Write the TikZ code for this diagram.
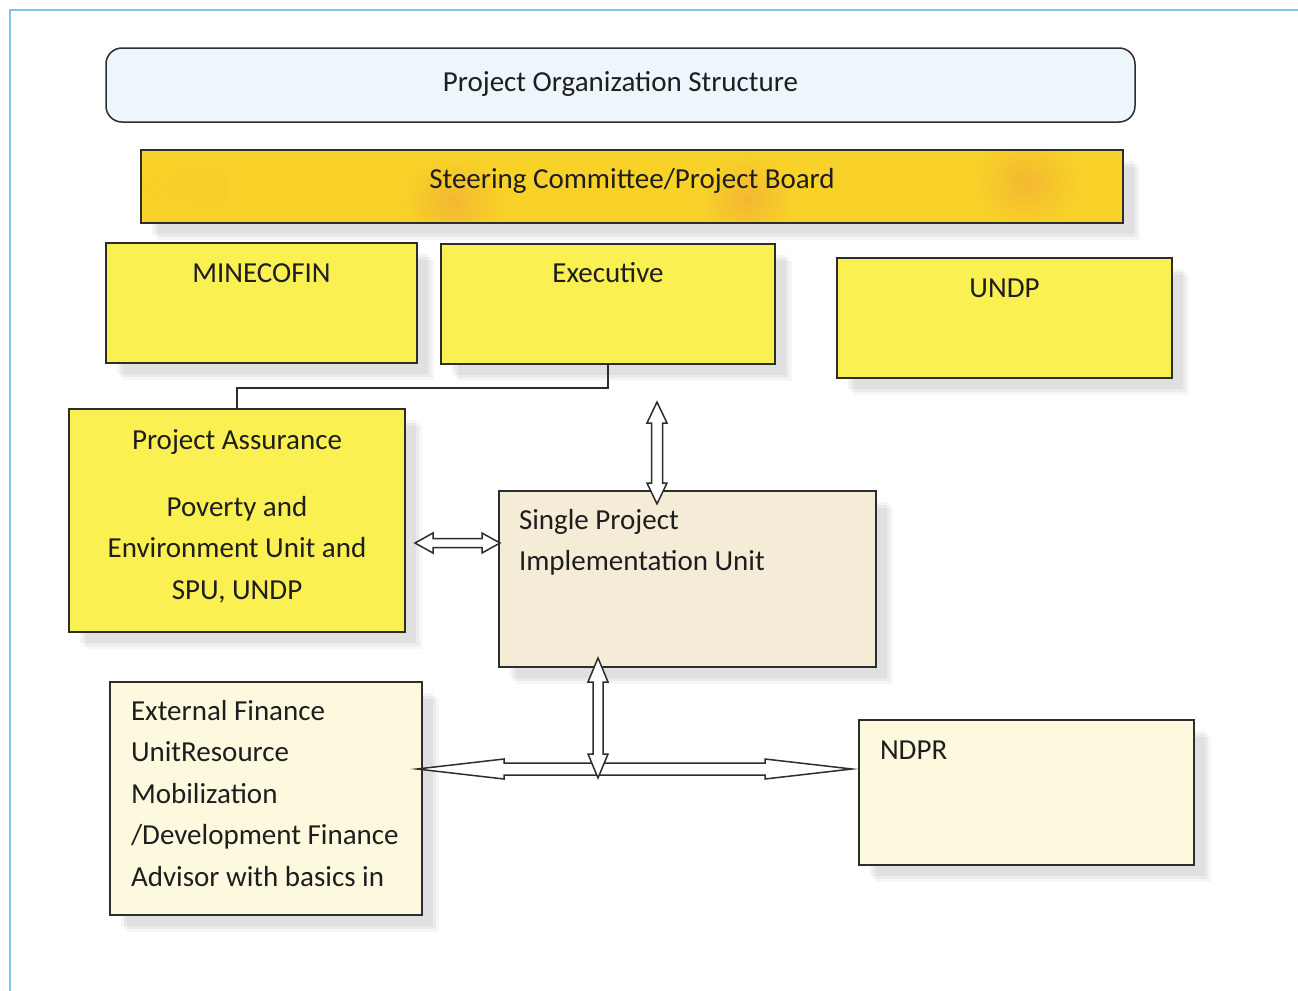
\documentclass[tikz,border=0pt]{standalone}
\usepackage{fontspec}
\setmainfont{Carlito}
\usetikzlibrary{shadows}

\definecolor{framecol}{RGB}{125,200,225}
\definecolor{titlefill}{RGB}{236,246,251}
\definecolor{steerfill}{RGB}{248,210,40}
\definecolor{steerblob}{RGB}{243,184,50}
\definecolor{boxyellow}{RGB}{250,240,82}
\definecolor{spiufill}{RGB}{245,236,216}
\definecolor{creamfill}{RGB}{253,249,222}
\definecolor{edgecol}{RGB}{45,45,45}
\definecolor{inkcol}{RGB}{30,30,30}

% box body: total height, width, alignment, first baseline depth, text
\newcommand\topbox[5]{\parbox[c][#1][t]{#2}{#3\rule{0pt}{#4}#5}}
% warm patch inside the board bar, offset from its top left corner
\newcommand\warmpatch[3]{\shade[inner color=steerblob, outer color=steerfill]
  ([shift={(#1,#2)}]path picture bounding box.north west) ellipse (#3 and 46);}

\tikzset{
  orgbox/.style={draw=edgecol, line width=0.75pt, inner sep=0pt, text=inkcol,
    font=\fontsize{14.5}{20.75}\selectfont},
  % soft offset shadow built from a few faint layers
  softshadow/.style={
    general shadow={shadow xshift=5.5pt, shadow yshift=-5.5pt, fill=black, opacity=0.045},
    general shadow={shadow xshift=7pt, shadow yshift=-7pt, fill=black, opacity=0.045},
    general shadow={shadow xshift=8.5pt, shadow yshift=-8.5pt, fill=black, opacity=0.035}},
  arrowline/.style={draw=edgecol, line width=0.75pt, fill=white, line join=miter},
  % hollow double-headed arrow: length / head length / head half width / shaft half width
  pics/dblarrow/.style args={#1/#2/#3/#4}{code={
    \path[arrowline] (0,0) -- (#2,#3) -- (#2,#4) -- ({#1-#2},#4) -- ({#1-#2},#3)
      -- (#1,0) -- ({#1-#2},-#3) -- ({#1-#2},-#4) -- (#2,-#4) -- (#2,-#3) -- cycle;
  }}
}

\begin{document}
\begin{tikzpicture}[x=0.5pt,y=-0.5pt]
\useasboundingbox (0,0) rectangle (1298,991);
\fill[white] (0,0) rectangle (1298,991);

% frame
\draw[framecol, line width=1pt] (10,991) -- (10,10) -- (1298,10);

% header
\node[orgbox, fill=titlefill, rounded corners=8pt] (title) at (620.5,85)
  {\topbox{37pt}{514.5pt}{\centering}{21.75pt}{Project Organization Structure}};
\node[orgbox, fill=steerfill, softshadow,
  path picture={\warmpatch{38}{36}{48}\warmpatch{312}{52}{52}
                \warmpatch{606}{50}{48}\warmpatch{885}{32}{54}}] (board) at (632,186.5)
  {\topbox{36.5pt}{491pt}{\centering}{19.25pt}{Steering Committee/Project Board}};

% board members
\node[orgbox, fill=boxyellow, softshadow] (minecofin) at (261.5,303)
  {\topbox{60pt}{155.5pt}{\centering}{19.5pt}{MINECOFIN}};
\node[orgbox, fill=boxyellow, softshadow] (exec) at (608,304)
  {\topbox{60pt}{167pt}{\centering}{19pt}{Executive}};
\node[orgbox, fill=boxyellow, softshadow] (undp) at (1004.5,318)
  {\topbox{60pt}{167.5pt}{\centering}{19.5pt}{UNDP}};

% assurance and implementation
\node[orgbox, fill=boxyellow, softshadow] (assure) at (237,520.5)
  {\topbox{111.5pt}{168pt}{\centering}{20pt}{Project Assurance\\[12.75pt]
   Poverty and\\ Environment Unit and\\ SPU, UNDP}};
\node[orgbox, fill=spiufill, softshadow] (spiu) at (687.5,579)
  {\topbox{88pt}{188.5pt}{\raggedright\leftskip=10pt}{19pt}{Single Project\\
   Implementation Unit}};

% lower units
\node[orgbox, fill=creamfill, softshadow] (extfin) at (266,798.5)
  {\topbox{116.5pt}{156pt}{\raggedright\leftskip=10.5pt}{19pt}{External Finance\\
   UnitResource\\ Mobilization\\ /Development Finance\\ Advisor with basics in}};
\node[orgbox, fill=creamfill, softshadow] (ndpr) at (1026.5,792.5)
  {\topbox{72.5pt}{167.5pt}{\raggedright\leftskip=10.5pt}{19.5pt}{NDPR}};

% reporting line
\draw[edgecol, line width=0.75pt] (exec.south) -- ++(0,23) -| (assure.north);

% arrow end points
\coordinate (execTip) at (657,402);
\coordinate (spiuTop) at (657,504);
\coordinate (assureTip) at (415,543);
\coordinate (spiuLeft) at (500,543);
\coordinate (spiuBottom) at (598,658);
\coordinate (hubTip) at (598,778);
\coordinate (extTip) at (417,769);
\coordinate (ndprTip) at (852,769);

% hollow double arrows
\pic[rotate=90] at (spiuTop) {dblarrow=102/21/10/5.5};
\pic at (assureTip) {dblarrow=85/18/10/4.5};
\pic at (extTip) {dblarrow=435/87/10/6};
\pic[rotate=90] at (hubTip) {dblarrow=120/24/10/5};
\end{tikzpicture}
\end{document}
